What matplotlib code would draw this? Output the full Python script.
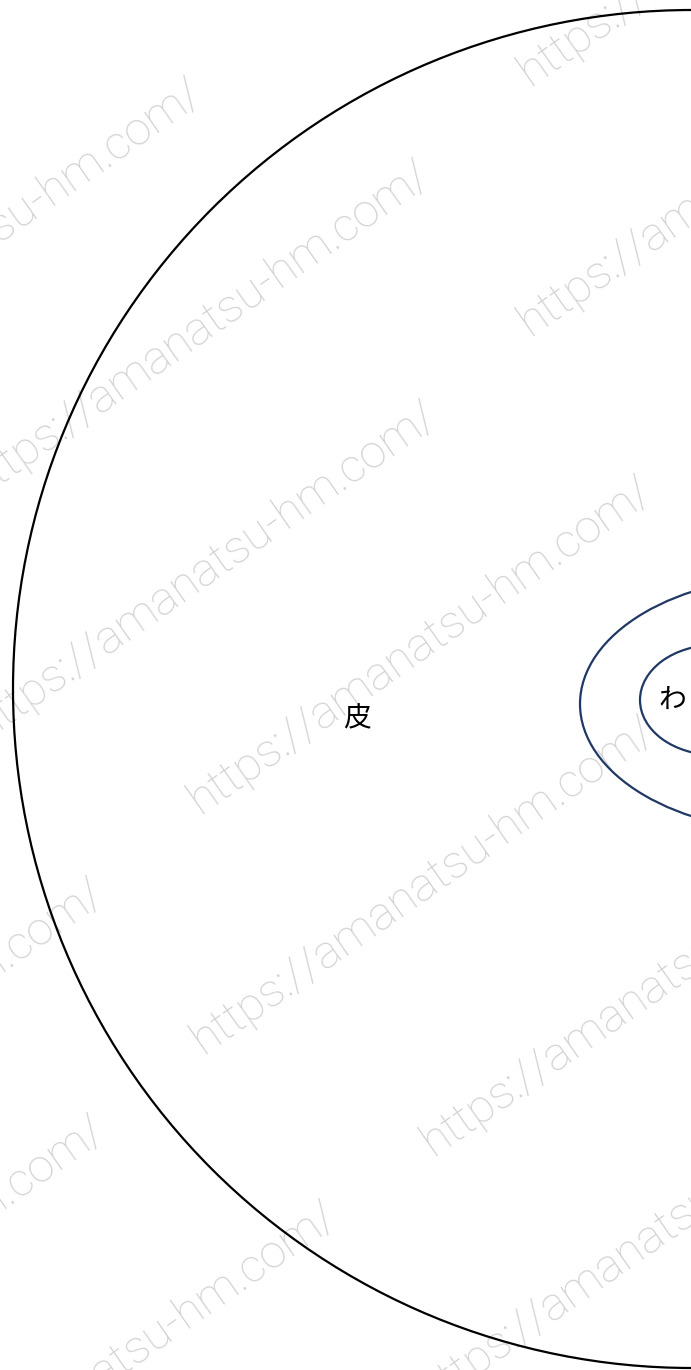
import matplotlib
matplotlib.use("Agg")
import matplotlib.pyplot as plt
from matplotlib.patches import Ellipse

plt.rcParams['font.family'] = ['Noto Sans CJK JP', 'DejaVu Sans']

# canvas in pixel units
W, H = 691, 1370

# shapes: (cx, cy, width, height, colour)
shape_names = ["peel", "wata_outer", "wata_inner"]
shape_cx = [692, 795, 715]
shape_cy = [689, 704, 700]
shape_w = [1358, 430, 150]
shape_h = [1358, 256, 110]
shape_colors = ["#000000", "#1f3864", "#1f3864"]

# labels
label_texts = ["皮", "わ"]
label_x = [357, 672]
label_y = [718, 700]

# watermark
wm_text = "https://amanatsu-hm.com/"
wm_angle = 35
wm_length = 555
# instances anchored on the start of "h" (baseline)
wm_start_x = [530, 530, 200, 203, 433, 430]
wm_start_y = [87, 337, 815, 1055, 1157, 1407]
# instances anchored on the top of the trailing "/"
wm_end_x = [185, 413, 420, 87, 88, 320]
wm_end_y = [70, 152, 393, 870, 1107, 1193]

fig = plt.figure(figsize=(W / 100, H / 100), dpi=100)
ax = fig.add_axes([0, 0, 1, 1])
ax.set_xlim(0, W)
ax.set_ylim(H, 0)
ax.set_axis_off()

# size the watermark so it spans the measured length
wm_font = dict(family=["Roboto", "DejaVu Sans"], fontweight="light")
probe = ax.text(0, 0, wm_text, fontsize=10, **wm_font)
renderer = fig.canvas.get_renderer()
probe_w = probe.get_window_extent(renderer).width
probe.remove()
wm_size = 10 * wm_length / probe_w

wm_style = dict(fontsize=wm_size, color="#d2d2d2", rotation=wm_angle,
                rotation_mode="anchor", zorder=1, **wm_font)
for x, y in zip(wm_start_x, wm_start_y):
    ax.text(x, y, wm_text, ha="left", va="baseline", **wm_style)
for x, y in zip(wm_end_x, wm_end_y):
    ax.text(x, y, wm_text, ha="right", va="top", **wm_style)

for cx, cy, w, h, c in zip(shape_cx, shape_cy, shape_w, shape_h, shape_colors):
    ax.add_patch(Ellipse((cx, cy), w, h, fill=False, edgecolor=c,
                         linewidth=1.6, zorder=2))

for t, x, y in zip(label_texts, label_x, label_y):
    ax.text(x, y, t, fontsize=20, ha="center", va="center", color="black",
            zorder=3)

fig.savefig("out.png", dpi=100)
